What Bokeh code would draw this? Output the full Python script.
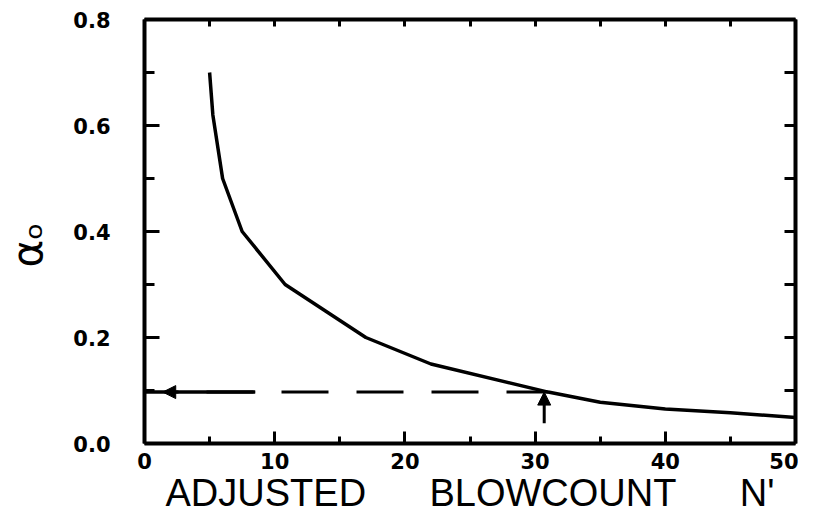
from bokeh.plotting import figure
from bokeh.layouts import column
from bokeh.models import Range1d, LinearAxis, FixedTicker, Arrow, NormalHead
from bokeh.core.properties import value
from bokeh.embed import file_html
from bokeh.resources import INLINE

# ---- data ----
blowcount = [5, 5.25, 6, 7.5, 10.8, 17, 22, 31, 35, 40, 45, 50]
alpha0 = [0.70, 0.62, 0.50, 0.40, 0.30, 0.20, 0.15, 0.097, 0.078, 0.065, 0.058, 0.049]

x_ticks = [0, 10, 20, 30, 40, 50]
x_tick_labels = ["0", "10", "20", "30", "40", "50"]
x_minor_ticks = [5, 15, 25, 35, 45]
y_ticks = [0.0, 0.2, 0.4, 0.6, 0.8]
y_tick_labels = ["0.0", "0.2", "0.4", "0.6", "0.8"]
y_minor_ticks = [0.1, 0.3, 0.5, 0.7]

read_n = 31            # blowcount used for the read-off
read_alpha = alpha0[blowcount.index(read_n)]
up_arrow_n = 30.7      # vertical arrow position
up_arrow_base = 0.038  # bottom of vertical arrow
left_arrow_tip = 1.4   # tip of the leftward arrow head
lead_end = 8.5         # end of the solid lead segment

GAP = "\u00a0" * 6
x_title = "ADJUSTED" + GAP + "BLOWCOUNT" + GAP + "N'"
y_title = "\u03b1\u2092\u00a0\u00a0"

TICK_FONT = "DejaVu Sans"
W = 798

x_range = Range1d(0, 50)
p = figure(width=W, height=478, x_range=x_range, y_range=Range1d(0, 0.8),
           output_backend="svg", toolbar_location=None,
           min_border_left=141, min_border_right=3, min_border_top=19, min_border_bottom=35)
p.grid.visible = False
p.outline_line_color = None
p.background_fill_color = "white"
p.border_fill_color = "white"

# bottom axis
xa = p.xaxis[0]
xa.ticker = FixedTicker(ticks=x_ticks, minor_ticks=x_minor_ticks)
xa.major_label_overrides = dict(zip(x_ticks, x_tick_labels))
xa.axis_line_width = 4
xa.major_tick_in = 12
xa.major_tick_out = 0
xa.minor_tick_in = 7
xa.minor_tick_out = 0
xa.major_tick_line_width = 3
xa.minor_tick_line_width = 3
xa.major_label_standoff = 9
xa.major_label_text_font = TICK_FONT
xa.major_label_text_font_style = "bold"
xa.major_label_text_font_size = "21px"
xa.major_label_text_color = "black"

# left axis
ya = p.yaxis[0]
ya.ticker = FixedTicker(ticks=y_ticks, minor_ticks=y_minor_ticks)
ya.major_label_overrides = dict(zip(y_ticks, y_tick_labels))
ya.axis_line_width = 4
ya.major_tick_in = 15
ya.major_tick_out = 0
ya.minor_tick_in = 10
ya.minor_tick_out = 0
ya.major_tick_line_width = 3
ya.minor_tick_line_width = 3
ya.major_label_standoff = 34
ya.major_label_text_font = TICK_FONT
ya.major_label_text_font_style = "bold"
ya.major_label_text_font_size = "21px"
ya.major_label_text_color = "black"
ya.axis_label = y_title
ya.axis_label_text_font = "DejaVu Sans"
ya.axis_label_text_font_style = "normal"
ya.axis_label_text_font_size = "42px"
ya.axis_label_text_color = "black"
ya.axis_label_standoff = 18

# top axis (ticks only, every 5)
top = LinearAxis(ticker=FixedTicker(ticks=[], minor_ticks=sorted(x_ticks + x_minor_ticks)),
                 axis_line_width=4, major_tick_in=0, major_tick_out=0,
                 minor_tick_in=7, minor_tick_out=0, minor_tick_line_width=3,
                 major_label_standoff=0)
p.add_layout(top, "above")

# right axis (ticks only, every 0.1)
right = LinearAxis(ticker=FixedTicker(ticks=[], minor_ticks=sorted(y_ticks + y_minor_ticks)),
                   axis_line_width=4, major_tick_in=0, major_tick_out=0,
                   minor_tick_in=11, minor_tick_out=0, minor_tick_line_width=3,
                   major_label_standoff=0)
p.add_layout(right, "right")

# curve
p.line(blowcount, alpha0, line_color="black", line_width=3.5, line_join="round")

# horizontal read-off line (dashed) with solid lead and arrow head
p.line([0, read_n], [read_alpha, read_alpha], line_color="black", line_width=3,
       line_dash="47 28", line_dash_offset=13)
p.line([0, lead_end], [read_alpha, read_alpha], line_color="black", line_width=3)
p.add_layout(Arrow(end=NormalHead(size=13, fill_color="black", line_color="black", line_width=1),
                   x_start=lead_end, y_start=read_alpha, x_end=left_arrow_tip, y_end=read_alpha,
                   line_color="black", line_width=3))

# vertical arrow
p.add_layout(Arrow(end=NormalHead(size=13, fill_color="black", line_color="black", line_width=1),
                   x_start=up_arrow_n, y_start=up_arrow_base, x_end=up_arrow_n, y_end=read_alpha,
                   line_color="black", line_width=3))

# x-axis title strip, aligned with the plot frame; title centred in it
t = figure(width=W, height=30, x_range=x_range, y_range=Range1d(-1, 1),
           output_backend="svg", toolbar_location=None,
           min_border_left=141, min_border_right=3, min_border_top=0, min_border_bottom=2)
t.axis.visible = False
t.grid.visible = False
t.outline_line_color = None
t.background_fill_color = "white"
t.border_fill_color = "white"
t.text(x=[(x_range.start + x_range.end) / 2], y=[0], text=[x_title],
       text_align="center", text_baseline="middle",
       text_font=value("Liberation Sans"), text_font_size="38px", text_color="black")

layout = column(p, t, spacing=0)
open("out.html", "w").write(file_html(layout, INLINE))
